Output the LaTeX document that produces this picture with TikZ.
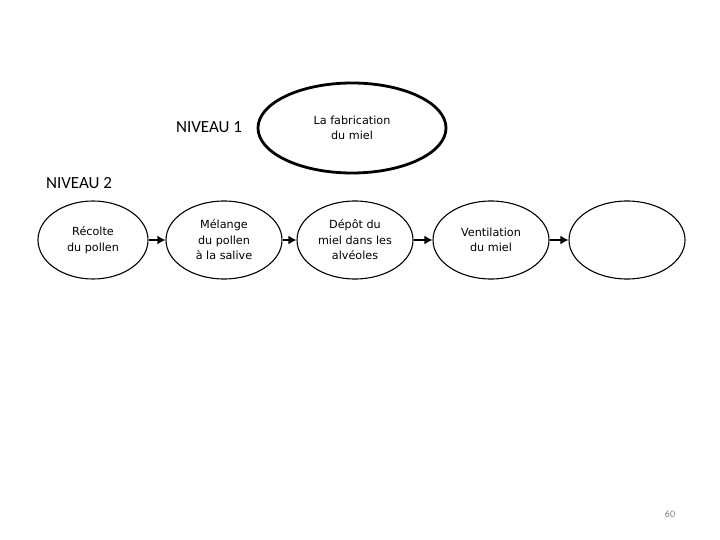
\documentclass[tikz,border=0pt]{standalone}
\usepackage{fontspec}
\setmainfont{Carlito}
\newfontfamily\vfont{DejaVu Sans}
\usetikzlibrary{shapes.geometric,arrows.meta}
\begin{document}
\begin{tikzpicture}[x=1pt,y=-1pt,
  lvl/.style={font=\fontsize{17}{18}\selectfont, anchor=center},
  small/.style={ellipse, draw, line width=1.1pt, minimum width=116pt, minimum height=78pt, inner sep=0pt, align=center, font=\vfont\fontsize{11.2}{15.5}\selectfont},
  big/.style={ellipse, draw, line width=2.8pt, minimum width=188pt, minimum height=90pt, inner sep=0pt, align=center, font=\vfont\fontsize{11.2}{15}\selectfont},
  conn/.style={-{Latex[length=8pt,width=9pt]}, line width=1.6pt}]
\useasboundingbox (0,0) rectangle (720,540);
\node[big] (top) at (352,128) {La fabrication\\du miel};
\node[lvl] (n1) at (209,127) {NIVEAU 1};
\node[lvl] (n2) at (79,183) {NIVEAU 2};
\node[small, minimum width=110pt] (e1) at (93,240) {Récolte\\du pollen};
\node[small] (e2) at (224,240) {Mélange\\du pollen\\à la salive};
\node[small] (e3) at (355,240) {Dépôt du\\miel dans les\\alvéoles};
\node[small] (e4) at (491,240) {Ventilation\\du miel};
\node[small] (e5) at (627,240) {};
\draw[conn] (e1) -- (e2);
\draw[conn] (e2) -- (e3);
\draw[conn] (e3) -- (e4);
\draw[conn] (e4) -- (e5);
\node[font=\fontsize{10}{12}\selectfont, text=gray] (pg) at (670,514) {60};
\end{tikzpicture}
\end{document}
